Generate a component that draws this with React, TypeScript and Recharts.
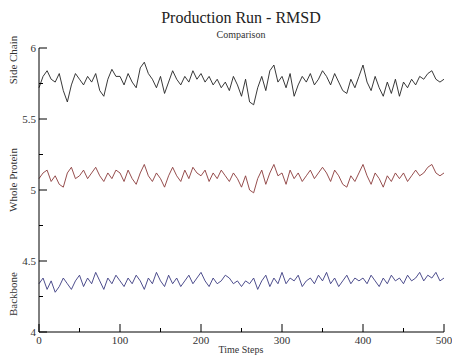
import React from "react";
import { LineChart, Line, XAxis, YAxis } from "recharts";

const timeSteps: number[] = Array.from({ length: 101 }, (_, i) => i * 5);

const sideChain: number[] = [
  5.72, 5.80, 5.84, 5.78, 5.76, 5.82, 5.70, 5.62, 5.74, 5.82,
  5.78, 5.74, 5.80, 5.76, 5.82, 5.70, 5.66, 5.78, 5.85, 5.80,
  5.80, 5.74, 5.82, 5.76, 5.72, 5.86, 5.90, 5.82, 5.78, 5.72,
  5.80, 5.68, 5.76, 5.84, 5.78, 5.74, 5.80, 5.76, 5.84, 5.78,
  5.82, 5.76, 5.80, 5.74, 5.78, 5.72, 5.76, 5.70, 5.80, 5.74,
  5.66, 5.78, 5.62, 5.60, 5.72, 5.80, 5.70, 5.84, 5.88, 5.76,
  5.80, 5.72, 5.82, 5.66, 5.74, 5.80, 5.76, 5.82, 5.74, 5.78,
  5.84, 5.80, 5.74, 5.82, 5.76, 5.70, 5.68, 5.78, 5.72, 5.80,
  5.88, 5.76, 5.70, 5.80, 5.72, 5.66, 5.76, 5.68, 5.78, 5.66,
  5.76, 5.72, 5.78, 5.74, 5.80, 5.78, 5.82, 5.84, 5.78, 5.76,
  5.78,
];

const wholeProtein: number[] = [
  5.08, 5.12, 5.14, 5.06, 5.10, 5.04, 5.02, 5.12, 5.16, 5.08,
  5.10, 5.14, 5.08, 5.12, 5.16, 5.10, 5.06, 5.12, 5.08, 5.14,
  5.12, 5.06, 5.14, 5.08, 5.04, 5.12, 5.18, 5.10, 5.06, 5.12,
  5.08, 5.02, 5.10, 5.16, 5.10, 5.06, 5.14, 5.08, 5.16, 5.12,
  5.10, 5.14, 5.06, 5.12, 5.08, 5.14, 5.10, 5.06, 5.12, 5.08,
  5.02, 5.10, 5.00, 4.98, 5.08, 5.14, 5.04, 5.12, 5.18, 5.10,
  5.12, 5.04, 5.14, 5.08, 5.12, 5.06, 5.10, 5.14, 5.08, 5.12,
  5.16, 5.12, 5.06, 5.14, 5.10, 5.04, 5.02, 5.10, 5.06, 5.12,
  5.18, 5.10, 5.04, 5.12, 5.08, 5.02, 5.10, 5.06, 5.12, 5.08,
  5.12, 5.06, 5.10, 5.14, 5.10, 5.12, 5.16, 5.18, 5.12, 5.10,
  5.12,
];

const backbone: number[] = [
  4.34, 4.38, 4.30, 4.36, 4.28, 4.32, 4.38, 4.34, 4.30, 4.36,
  4.40, 4.32, 4.38, 4.34, 4.42, 4.36, 4.30, 4.38, 4.34, 4.40,
  4.36, 4.32, 4.38, 4.34, 4.40, 4.36, 4.30, 4.38, 4.34, 4.42,
  4.36, 4.32, 4.40, 4.34, 4.38, 4.32, 4.36, 4.40, 4.34, 4.38,
  4.42, 4.36, 4.32, 4.38, 4.34, 4.36, 4.40, 4.38, 4.34, 4.36,
  4.32, 4.36, 4.34, 4.38, 4.30, 4.36, 4.40, 4.32, 4.38, 4.34,
  4.42, 4.34, 4.38, 4.36, 4.40, 4.32, 4.36, 4.38, 4.34, 4.40,
  4.36, 4.42, 4.34, 4.38, 4.32, 4.36, 4.40, 4.34, 4.38, 4.36,
  4.38, 4.34, 4.40, 4.36, 4.32, 4.38, 4.34, 4.40, 4.36, 4.38,
  4.34, 4.40, 4.36, 4.38, 4.42, 4.36, 4.40, 4.38, 4.42, 4.36,
  4.38,
];

const xTicks: number[] = [0, 50, 100, 150, 200, 250, 300, 350, 400, 450, 500];
const yTicks: number[] = [4, 4.25, 4.5, 4.75, 5, 5.25, 5.5, 5.75, 6];
const yTickLabels: string[] = ["4", "", "4.5", "", "5", "", "5.5", "", "6"];

const data = timeSteps.map((t, i) => ({
  t,
  side: sideChain[i],
  whole: wholeProtein[i],
  back: backbone[i],
}));

const FONT = "'Liberation Serif', 'DejaVu Serif', serif";

const BottomTick = (props: any) => {
  const { x, y, payload } = props;
  const v = payload.value as number;
  const major = v % 100 === 0;
  return (
    <g>
      <line x1={x} y1={y} x2={x} y2={y - (major ? 8 : 4)} stroke="#000" strokeWidth={1} />
      {major && (
        <text x={x} y={y + 12} textAnchor="middle" fontFamily={FONT} fontSize={11} fill="#333">
          {v}
        </text>
      )}
    </g>
  );
};

const TopTick = (props: any) => {
  const { x, y, payload } = props;
  const v = payload.value as number;
  const major = v % 100 === 0;
  return <line x1={x} y1={y} x2={x} y2={y + (major ? 8 : 4)} stroke="#000" strokeWidth={1} />;
};

const LeftTick = (props: any) => {
  const { x, y, payload } = props;
  const v = payload.value as number;
  const idx = yTicks.indexOf(v);
  const label = idx >= 0 ? yTickLabels[idx] : "";
  const major = label !== "";
  return (
    <g>
      <line x1={x} y1={y} x2={x + (major ? 8 : 4)} y2={y} stroke="#000" strokeWidth={1} />
      {major && (
        <text x={x - 3} y={y + 4} textAnchor="end" fontFamily={FONT} fontSize={11} fill="#333">
          {label}
        </text>
      )}
    </g>
  );
};

const RightTick = (props: any) => {
  const { x, y, payload } = props;
  const v = payload.value as number;
  const idx = yTicks.indexOf(v);
  const major = idx >= 0 && yTickLabels[idx] !== "";
  return <line x1={x} y1={y} x2={x - (major ? 8 : 4)} y2={y} stroke="#000" strokeWidth={1} />;
};

export default function App() {
  return (
    <div style={{ position: "absolute", left: 0, top: 0, width: 452, height: 356, background: "#fff" }}>
      <LineChart
        width={452}
        height={356}
        data={data}
        margin={{ top: 48, right: 8, left: 0, bottom: 0 }}
      >
        <XAxis
          dataKey="t"
          type="number"
          domain={[0, 500]}
          ticks={xTicks}
          interval={0}
          height={24}
          tickSize={0}
          tickMargin={0}
          tickLine={false}
          axisLine={{ stroke: "#000", strokeWidth: 1 }}
          tick={<BottomTick />}
        />
        <XAxis
          xAxisId="top"
          orientation="top"
          dataKey="t"
          type="number"
          domain={[0, 500]}
          ticks={xTicks}
          interval={0}
          height={0}
          tickSize={0}
          tickMargin={0}
          tickLine={false}
          axisLine={{ stroke: "#000", strokeWidth: 1 }}
          tick={<TopTick />}
        />
        <YAxis
          type="number"
          domain={[4, 6]}
          ticks={yTicks}
          interval={0}
          width={39}
          tickSize={0}
          tickMargin={0}
          tickLine={false}
          axisLine={{ stroke: "#000", strokeWidth: 1 }}
          tick={<LeftTick />}
        />
        <YAxis
          yAxisId="right"
          orientation="right"
          type="number"
          domain={[4, 6]}
          ticks={yTicks}
          interval={0}
          width={0}
          tickSize={0}
          tickMargin={0}
          tickLine={false}
          axisLine={{ stroke: "#000", strokeWidth: 1 }}
          tick={<RightTick />}
        />
        <Line dataKey="side" stroke="#222" strokeWidth={0.9} dot={false} isAnimationActive={false} type="linear" />
        <Line dataKey="whole" stroke="#8a3a3a" strokeWidth={0.9} dot={false} isAnimationActive={false} type="linear" />
        <Line dataKey="back" stroke="#3a3a80" strokeWidth={0.9} dot={false} isAnimationActive={false} type="linear" />
        <text x={241} y={23} textAnchor="middle" fontFamily={FONT} fontSize={16} fill="#222">
          Production Run - RMSD
        </text>
        <text x={241} y={38} textAnchor="middle" fontFamily={FONT} fontSize={10} fill="#333">
          Comparison
        </text>
        <text x={241} y={353} textAnchor="middle" fontFamily={FONT} fontSize={10} fill="#333">
          Time Steps
        </text>
        <text x={17} y={60} textAnchor="middle" fontFamily={FONT} fontSize={11} fill="#333" transform="rotate(-90 17 60)">
          Side Chain
        </text>
        <text x={17} y={180} textAnchor="middle" fontFamily={FONT} fontSize={11} fill="#333" transform="rotate(-90 17 180)">
          Whole Protein
        </text>
        <text x={17} y={294} textAnchor="middle" fontFamily={FONT} fontSize={11} fill="#333" transform="rotate(-90 17 294)">
          Backbone
        </text>
      </LineChart>
    </div>
  );
}
